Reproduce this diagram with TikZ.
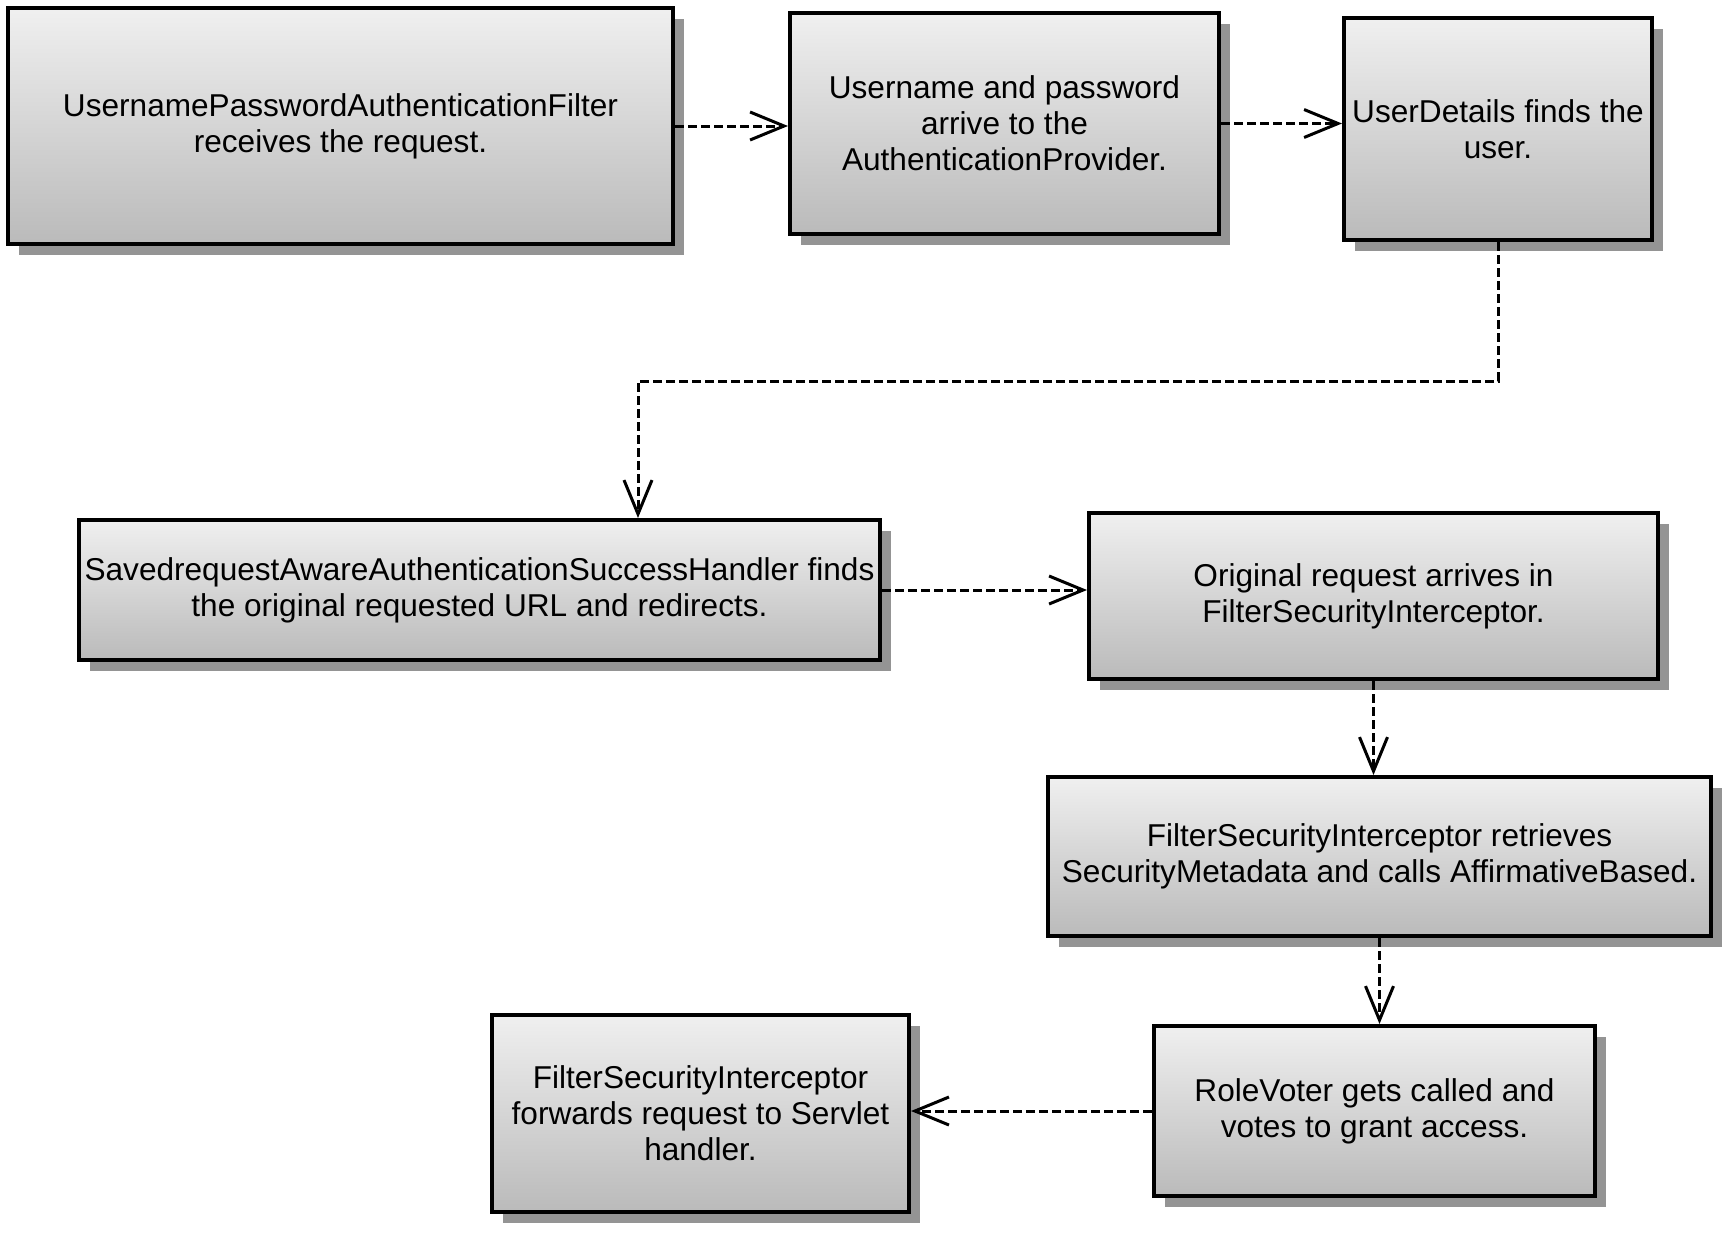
\documentclass[tikz,border=0pt]{standalone}
\usepackage{fontspec}
\setmainfont{Liberation Sans}
\usetikzlibrary{arrows.meta,shadows,calc}
\begin{document}
\begin{tikzpicture}[x=0.5pt,y=-0.5pt,
  box/.style={draw=black, line width=2pt, top color=black!6, bottom color=black!27,
    align=center, inner sep=0pt, text=black, font=\fontsize{15.8}{18}\selectfont,
    drop shadow={shadow xshift=5.5pt, shadow yshift=-5.5pt, fill=black!42, opacity=1}},
  flow/.style={line width=1.5pt, dash pattern=on 4.5pt off 2pt,
    -{Straight Barb[length=17pt,width=14pt,line width=1.5pt]}}]
\useasboundingbox (0,0) rectangle (1725,1233);
\node[box, minimum width=332.5pt, minimum height=118pt] (b1) at (340.5,126)
  {UsernamePasswordAuthenticationFilter\\receives the request.};
\node[box, minimum width=214.5pt, minimum height=110.5pt] (b2) at (1004.5,123.5)
  {Username and password\\arrive to the\\AuthenticationProvider.};
\node[box, minimum width=154pt, minimum height=111pt] (b3) at (1498,129)
  {UserDetails finds the\\user.};
\node[box, minimum width=400.5pt, minimum height=70pt] (b4) at (479.5,590)
  {SavedrequestAwareAuthenticationSuccessHandler finds\\the original requested URL and redirects.};
\node[box, minimum width=284.5pt, minimum height=83pt] (b5) at (1373.5,596)
  {Original request arrives in\\FilterSecurityInterceptor.};
\node[box, minimum width=331.5pt, minimum height=79.5pt] (b6) at (1379.5,856.5)
  {FilterSecurityInterceptor retrieves\\SecurityMetadata and calls AffirmativeBased.};
\node[box, minimum width=220.5pt, minimum height=85pt] (b7) at (1374.5,1111)
  {RoleVoter gets called and\\votes to grant access.};
\node[box, minimum width=208.5pt, minimum height=98.5pt] (b8) at (700.5,1113.5)
  {FilterSecurityInterceptor\\forwards request to Servlet\\handler.};
\coordinate (k) at (638,381);
\draw[flow] (b1.east) -- (b1.east -| b2.west);
\draw[flow] (b2.east) -- (b2.east -| b3.west);
\draw[flow] (b3.south) |- (k) -- (k |- b4.north);
\draw[flow] (b4.east) -- (b4.east -| b5.west);
\draw[flow] (b5.south) -- (b5.south |- b6.north);
\draw[flow] (b6.south) -- (b6.south |- b7.north);
\draw[flow] (b7.west) -- (b7.west -| b8.east);
\end{tikzpicture}
\end{document}
